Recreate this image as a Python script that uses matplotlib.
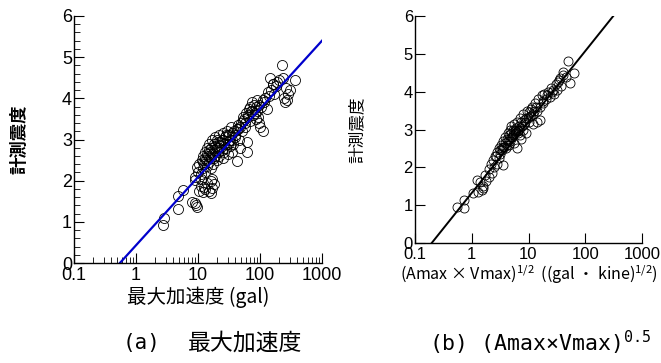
import matplotlib
matplotlib.use("Agg")
import matplotlib.pyplot as plt
from matplotlib.ticker import MultipleLocator, FixedLocator, FuncFormatter, NullLocator, LogLocator

plt.rcParams['font.family'] = ['Liberation Sans Narrow', 'Liberation Sans', 'Noto Sans CJK JP']

# (a) peak acceleration (gal) vs instrumental intensity
acc_x = [2.7, 2.8, 4.7, 4.8, 5.8, 7.9, 8.8, 9.3, 9.6, 8.9, 9.6, 9.0, 10.5, 11, 12, 13, 14, 16, 17, 18,
         11, 12.5, 15, 16, 17,
         10, 10.5, 11, 11.5, 12, 12, 12.5, 13, 13, 13.5, 14, 14, 14.5, 15, 15, 15.5, 16, 16, 16.5, 17,
         17, 17.5, 18, 18, 19, 19, 20, 20, 21, 21, 22, 22, 23, 24, 24, 25, 25, 26, 27, 28, 29, 30, 30,
         32, 33, 34, 35, 36, 38, 40, 42, 44, 46, 48, 50, 52, 55, 58, 60, 62, 62, 65, 68, 70, 72, 75,
         78, 80, 85, 88, 90, 95, 100, 105, 112, 115, 120, 130, 140, 145, 150, 160, 170, 180, 200,
         224, 235, 240, 250, 260, 280, 300, 363, 270,
         12, 14, 18, 20, 23, 26, 30, 33, 37, 45, 53, 57, 66, 82, 92,
         13, 15, 19, 22, 25, 28, 31, 35, 39, 43, 47, 54, 63, 74, 86, 98, 110, 135, 165, 190]
acc_y = [0.93, 1.10, 1.32, 1.63, 1.78, 1.48, 1.45, 1.40, 1.36, 2.10, 2.33, 2.02, 1.75, 1.88, 1.72, 1.80, 1.95, 2.00, 2.05, 1.92,
         2.05, 1.85, 1.75, 1.70, 1.82,
         2.20, 2.40, 2.15, 2.50, 2.30, 2.60, 2.40, 2.20, 2.70, 2.50, 2.35, 2.80, 2.60, 2.45, 2.90, 2.70, 2.30, 2.55, 2.80, 3.00,
         2.65, 2.40, 2.75, 2.90, 2.60, 3.05, 2.80, 2.50, 2.95, 2.70, 3.10, 2.60, 2.85, 3.00, 2.75, 3.15, 2.55, 2.90, 3.05, 2.80, 3.20, 2.95, 2.65,
         3.10, 2.85, 3.30, 3.00, 2.70, 3.20, 3.10, 2.48, 3.35, 3.00, 2.80, 3.40, 3.20, 3.50, 3.30, 3.65, 2.70, 2.95, 3.55, 3.80, 3.45, 3.70, 3.90,
         3.60, 3.85, 3.50, 3.95, 3.70, 3.40, 3.30, 3.80, 3.20, 3.90, 4.00, 3.75, 4.05, 4.50, 4.20, 4.35, 4.10, 4.30, 4.45,
         4.80, 4.50, 4.00, 3.90, 4.25, 4.10, 4.20, 4.45, 3.95,
         2.45, 2.65, 2.55, 3.00, 2.95, 2.70, 3.10, 3.00, 2.90, 3.25, 3.55, 3.40, 3.75, 3.65, 3.55,
         2.55, 2.75, 2.85, 2.80, 3.00, 3.10, 2.90, 3.15, 3.05, 3.25, 3.30, 3.45, 3.60, 3.70, 3.80, 3.85, 3.95, 4.15, 4.35, 4.40]
acc_line_x = [0.55, 1000]
acc_line_y = [0.0, 5.4]

# (b) (Amax x Vmax)^0.5 vs instrumental intensity
av_x = [0.54, 0.74, 0.73, 1.06, 1.23, 1.6, 1.5, 1.55, 1.3, 1.4, 1.7, 1.8, 2.0, 2.0, 2.2, 2.3, 2.4, 2.5, 2.6, 2.8,
        2.8, 3.0, 3.0, 3.2, 3.3, 3.4, 3.5, 3.6, 3.6, 3.8, 3.9, 4.0, 4.2, 4.3, 4.5, 4.5, 4.7, 4.8, 5.0, 5.0,
        5.2, 5.4, 5.5, 5.6, 5.8, 6.0, 6.2, 6.2, 6.5, 6.8, 7.0, 7.2, 7.5, 8.0, 8.0, 8.5, 9.0, 9.5, 10, 10,
        11, 11.5, 12, 13, 14, 15, 16, 16, 17, 18, 19, 20, 22, 24, 25, 28, 30, 32, 35, 38,
        40, 41, 45, 50, 54, 64, 14, 12, 7.5, 9.0,
        2.7, 3.4, 4.1, 4.6, 5.3, 5.9, 6.6, 7.8, 8.8, 10.5, 12.5, 18, 27, 33,
        3.1, 3.7, 4.4, 5.1, 5.7, 6.4, 7.1, 8.3, 9.8, 11, 13.5, 21, 26, 36]
av_y = [0.94, 0.92, 1.14, 1.33, 1.67, 1.45, 1.40, 1.50, 1.35, 1.60, 1.80, 1.65, 1.75, 1.95, 2.10, 1.85, 2.20, 2.00, 2.30, 2.10,
        2.40, 2.25, 2.50, 2.35, 2.60, 2.45, 2.70, 2.06, 2.55, 2.65, 2.80, 2.50, 2.75, 2.90, 2.60, 2.85, 3.00, 2.70, 2.90, 3.10,
        2.80, 3.00, 2.65, 3.15, 2.90, 3.05, 2.50, 3.20, 2.95, 3.10, 3.30, 2.85, 3.20, 3.00, 3.40, 3.15, 3.30, 3.50, 3.20, 3.45,
        3.35, 3.60, 3.40, 3.70, 3.50, 3.80, 3.25, 3.60, 3.90, 3.70, 3.95, 3.80, 4.00, 3.85, 4.10, 3.95, 4.20, 4.05, 4.30, 4.15,
        4.45, 4.53, 4.40, 4.81, 4.24, 4.49, 3.20, 3.15, 2.75, 2.90,
        2.30, 2.50, 2.60, 2.75, 2.85, 2.95, 3.00, 3.10, 3.20, 3.35, 3.50, 3.75, 4.05, 4.25,
        2.45, 2.55, 2.70, 2.80, 3.00, 2.90, 3.05, 3.25, 3.30, 3.55, 3.60, 3.90, 3.98, 4.35]
av_line_x = [0.197, 312]
av_line_y = [0.0, 6.0]

log_ticks = [0.1, 1, 10, 100, 1000]
y_ticks = [0, 1, 2, 3, 4, 5, 6]

fig = plt.figure(figsize=(6.61, 3.63), dpi=100)
ax1 = fig.add_axes([74/661, 100/363, 248/661, 247/363])
ax2 = fig.add_axes([415/661, 120/363, 227/661, 227/363])

fmt = FuncFormatter(lambda v, p: '%g' % v)

for ax in (ax1, ax2):
    ax.set_xscale('log')
    ax.set_xlim(0.1, 1000)
    ax.set_ylim(0, 6)
    ax.spines['top'].set_visible(False)
    ax.spines['right'].set_visible(False)
    ax.spines['left'].set_linewidth(1.0)
    ax.spines['bottom'].set_linewidth(1.0)
    ax.xaxis.set_major_locator(FixedLocator(log_ticks))
    ax.xaxis.set_major_formatter(fmt)
    ax.yaxis.set_major_locator(FixedLocator(y_ticks))
    ax.tick_params(which='major', direction='in', length=7, width=0.8, labelsize=13, pad=1.5)
    ax.tick_params(which='minor', direction='in', length=4, width=0.6)
    ax.tick_params(axis='x', which='major', pad=3)

ax1.xaxis.set_minor_locator(LogLocator(base=10, subs=range(2, 10)))
ax1.yaxis.set_minor_locator(MultipleLocator(0.2))
ax2.xaxis.set_minor_locator(NullLocator())
ax2.yaxis.set_minor_locator(NullLocator())
ax2.tick_params(which='major', labelsize=12)

ax1.plot(acc_x, acc_y, 'o', mfc='none', mec='black', ms=7.2, mew=0.6, clip_on=False)
ax1.plot(acc_line_x, acc_line_y, color='#0000cc', lw=1.6)

ax2.plot(av_x, av_y, 'o', mfc='none', mec='black', ms=6.5, mew=0.6, clip_on=False)
ax2.plot(av_line_x, av_line_y, color='black', lw=1.4)

ax1.set_ylabel('計測震度', family='Noto Sans CJK JP', fontsize=12.5, fontweight='bold', labelpad=24)
ax2.set_ylabel('計測震度', family='Noto Sans CJK JP', fontsize=12, labelpad=27)
ax1.set_xlabel('最大加速度 (gal)', family='Noto Sans CJK JP', fontsize=14, labelpad=2)
ax2.set_xlabel(r'(Amax × Vmax)$^{\mathregular{1/2}}$  ((gal ・ kine)$^{\mathregular{1/2}}$)',
               family='Noto Sans CJK JP', fontsize=11.5, labelpad=0)

fig.text(142/661, 1 - 343/363, '(a)', family='DejaVu Sans Mono', fontsize=15, ha='center', va='center')
fig.text(245/661, 1 - 343/363, '最大加速度', family='Noto Sans CJK JP', fontsize=16.5, ha='center', va='center')
fig.text(429/661, 1 - 343/363, '(b) (Amax×Vmax)$^{\\mathregular{0.5}}$', family='DejaVu Sans Mono',
         fontsize=15.5, ha='left', va='center')

fig.savefig('out.png', dpi=100)
